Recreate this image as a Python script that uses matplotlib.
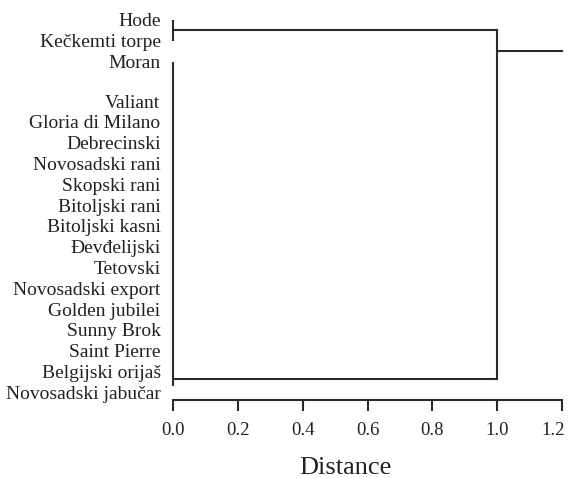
import matplotlib
matplotlib.use("Agg")
import matplotlib.pyplot as plt
import matplotlib.transforms as mtrans
import numpy as np

# ---- data ----
labels = ["Hode", "Kečkemti torpe", "Moran", "Valiant", "Gloria di Milano",
          "Debrecinski", "Novosadski rani", "Skopski rani", "Bitoljski rani",
          "Bitoljski kasni", "Đevđelijski", "Tetovski", "Novosadski export",
          "Golden jubilei", "Sunny Brok", "Saint Pierre", "Belgijski orijaš",
          "Novosadski jabučar"]
cluster_a = ["Hode", "Kečkemti torpe"]
cluster_b = labels[2:]
height_a = 0.0
height_b = 0.0
height_join = 1.0
x_ticks = [0.0, 0.2, 0.4, 0.6, 0.8, 1.0, 1.2]

plt.rcParams['font.family'] = ['Liberation Serif', 'DejaVu Serif']

W, H = 569, 478
fig = plt.figure(figsize=(W / 100, H / 100), dpi=100)

# layout (pixels)
px_left, px_right = 173, 562
px_top, px_bottom = 10, 400
ax = fig.add_axes([px_left / W, 1 - px_bottom / H,
                   (px_right - px_left) / W, (px_bottom - px_top) / H])

# leaf positions: one slot each, with an extra gap after the first three
gap = 0.9
pos = {}
for i, lab in enumerate(labels):
    pos[lab] = i + (gap if i >= 3 else 0)

step = 20.8  # px per slot
first_px = 20
ax.set_ylim((px_bottom - first_px) / step, (px_top - first_px) / step)
ax.set_xlim(x_ticks[0], x_ticks[-1])

lc = "#2a2a2a"
lw = 1.5

def draw_cluster(members, h, tail=0.0):
    ys = [pos[m] for m in members]
    ax.plot([h, h], [min(ys), max(ys) - tail], color=lc, lw=lw, clip_on=False,
            solid_capstyle='butt')
    if len(members) == 2:
        yc = (ys[0] + ys[1]) / 2
    else:
        yc = (ys[-2] + ys[-1]) / 2 - 0.15
    return yc

ya = draw_cluster(cluster_a, height_a)
yb = draw_cluster(cluster_b, height_b, tail=0.3)
ax.plot([height_a, height_join], [ya, ya], color=lc, lw=lw, clip_on=False)
ax.plot([height_b, height_join], [yb, yb], color=lc, lw=lw, clip_on=False)
ax.plot([height_join, height_join], [ya, yb], color=lc, lw=lw, clip_on=False)
y_root = (pos[cluster_a[-1]] + pos[cluster_b[0]]) / 2
ax.plot([height_join, x_ticks[-1]], [y_root, y_root], color=lc, lw=lw,
        clip_on=False)

ax.set_yticks([pos[l] for l in labels])
ax.set_yticklabels(labels, fontsize=14, color="#222222")
ax.tick_params(axis='y', length=0, pad=9)

ax.set_xticks(x_ticks)
ax.set_xticklabels([f"{t:.1f}" for t in x_ticks], fontsize=13.5, color="#222222")
ax.tick_params(axis='x', direction='out', length=8, width=1.5, color=lc, pad=8)
last = ax.get_xticklabels()[-1]
last.set_horizontalalignment('right')
last.set_transform(last.get_transform() +
                   mtrans.ScaledTranslation(3 / 100, 0, fig.dpi_scale_trans))

for s in ["top", "right", "left"]:
    ax.spines[s].set_visible(False)
ax.spines["bottom"].set_linewidth(1.5)
ax.spines["bottom"].set_color(lc)

ax.set_xlabel("Distance", fontsize=19, color="#222222")
ax.xaxis.set_label_coords((345 - px_left) / (px_right - px_left), -0.145)

fig.savefig("out.png", dpi=100)
